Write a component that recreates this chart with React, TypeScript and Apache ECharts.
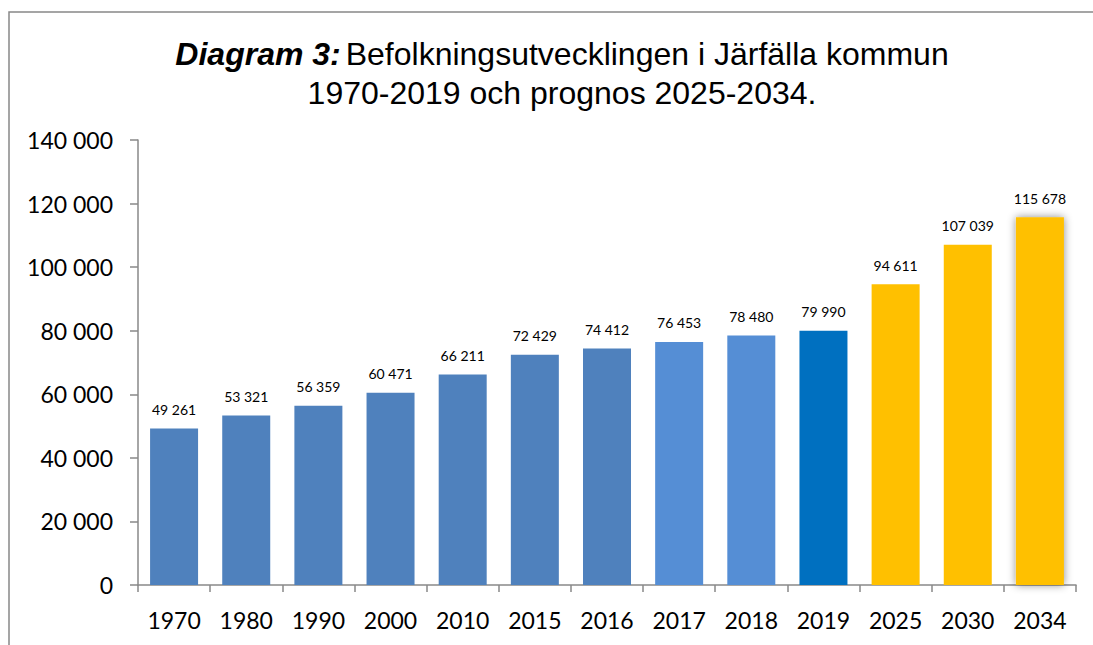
import React, { useEffect, useRef } from "react";
import * as echarts from "echarts";

const categories = ["1970", "1980", "1990", "2000", "2010", "2015", "2016", "2017", "2018", "2019", "2025", "2030", "2034"];
const population = [49261, 53321, 56359, 60471, 66211, 72429, 74412, 76453, 78480, 79990, 94611, 107039, 115678];
const barColors = ["#4F81BD", "#4F81BD", "#4F81BD", "#4F81BD", "#4F81BD", "#4F81BD", "#4F81BD", "#558ED5", "#558ED5", "#0070C0", "#FFC000", "#FFC000", "#FFC000"];
const shadowed = [false, false, false, false, false, false, false, false, false, false, false, false, true];

const fmt = (v: number) => String(v).replace(/\B(?=(\d{3})+(?!\d))/g, " ");

export default function App() {
  const ref = useRef<HTMLDivElement>(null);
  useEffect(() => {
    const chart = echarts.init(ref.current!, null, { renderer: "svg" });
    chart.setOption({
      animation: false,
      backgroundColor: "#ffffff",
      title: {
        left: 557,
        top: 29,
        textAlign: "center",
        text: "{b|Diagram 3:} {n|Befolkningsutvecklingen i Järfälla kommun}\n{n|1970-2019 och prognos 2025-2034.}",
        textStyle: {
          fontWeight: "normal",
          rich: {
            b: { fontFamily: "Liberation Sans", fontSize: 32, fontWeight: "bold", fontStyle: "italic", color: "#000", lineHeight: 39 },
            n: { fontFamily: "Liberation Sans", fontSize: 32, fontWeight: "normal", color: "#000", lineHeight: 39 },
          },
        },
      },
      graphic: [
        {
          type: "rect",
          shape: { x: 9, y: 12, width: 1200, height: 700 },
          style: { fill: "none", stroke: "#888888", lineWidth: 1.5 },
          silent: true,
        },
      ],
      grid: { left: 138, right: 17, top: 140, bottom: 60 },
      xAxis: {
        type: "category",
        data: categories,
        axisLine: { lineStyle: { color: "#898989", width: 1.5 } },
        axisTick: { show: true, length: 7, lineStyle: { color: "#898989", width: 1.5 } },
        axisLabel: { fontFamily: "Lato", fontSize: 23, color: "#000", margin: 23 },
      },
      yAxis: {
        type: "value",
        min: 0,
        max: 140000,
        interval: 20000,
        axisLine: { show: true, lineStyle: { color: "#898989", width: 1.5 } },
        axisTick: { show: true, length: 8, lineStyle: { color: "#898989", width: 1.5 } },
        splitLine: { show: false },
        axisLabel: { fontFamily: "Lato", fontSize: 23, color: "#000", margin: 25, formatter: (v: number) => fmt(v) },
      },
      series: [
        {
          type: "bar",
          barWidth: 48,
          data: population.map((v, i) => ({
            value: v,
            itemStyle: shadowed[i]
              ? { color: barColors[i], shadowBlur: 8, shadowColor: "rgba(0,0,0,0.45)", shadowOffsetX: 0, shadowOffsetY: 0 }
              : { color: barColors[i] },
          })),
          label: {
            show: true,
            position: "top",
            distance: 12,
            fontFamily: "Lato",
            fontSize: 14,
            color: "#000",
            formatter: (p: any) => fmt(p.value),
          },
        },
      ],
    });
    return () => chart.dispose();
  }, []);
  return <div ref={ref} style={{ position: "fixed", left: 0, top: 0, width: 1093, height: 645 }} />;
}
